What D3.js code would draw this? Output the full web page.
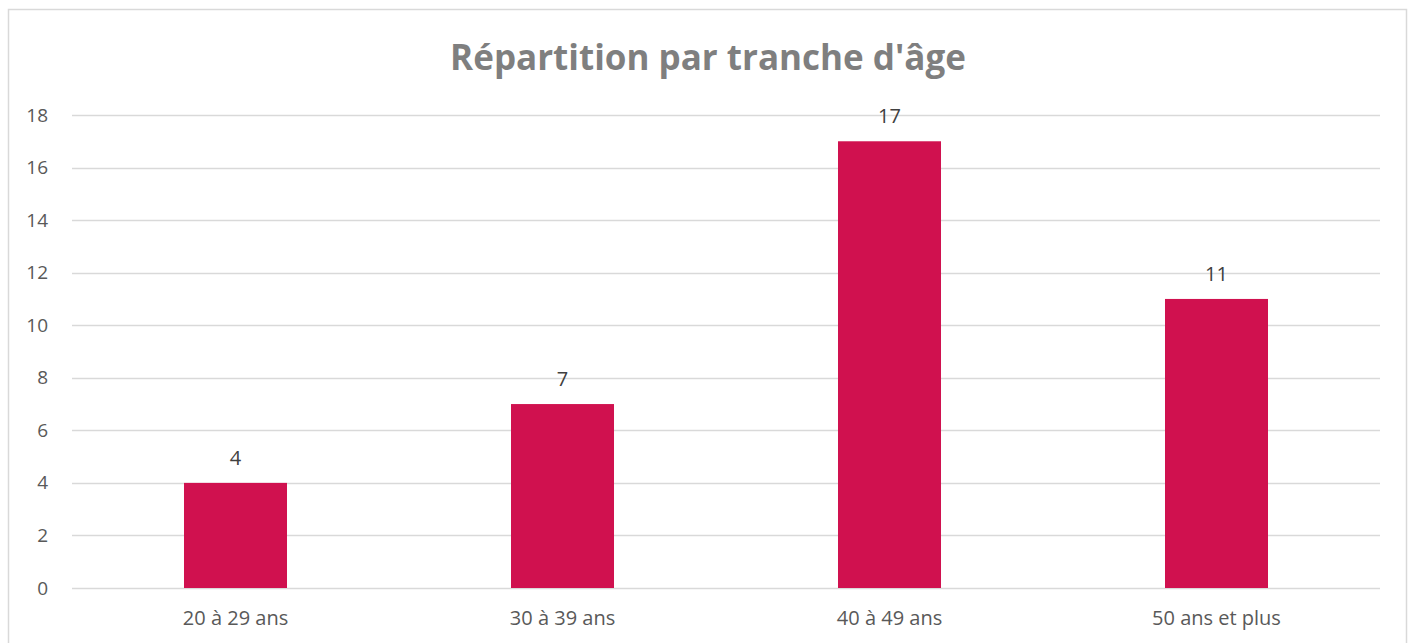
<!DOCTYPE html>
<html>
<head>
<meta charset="utf-8">
<script src="https://cdn.jsdelivr.net/npm/d3@7"></script>
<style>
  body { margin: 0; background: #fff; }
  svg { display: block; font-family: "Open Sans", sans-serif; }
</style>
</head>
<body>
<div id="chart"></div>
<script>
const categories = ['20 à 29 ans', '30 à 39 ans', '40 à 49 ans', '50 ans et plus'];
const values = [4, 7, 17, 11];
const yTicks = [0, 2, 4, 6, 8, 10, 12, 14, 16, 18];
const title = "Répartition par tranche d'âge";

const width = 1408, height = 643;
const margin = { top: 115, right: 28, bottom: 55, left: 72 };
const innerW = width - margin.left - margin.right;
const innerH = height - margin.top - margin.bottom;

const svg = d3.select('#chart').append('svg')
    .attr('width', width)
    .attr('height', height);

// outer chart border
svg.append('rect')
    .attr('x', 8.5).attr('y', 9.5)
    .attr('width', 1398).attr('height', 650)
    .attr('fill', 'none')
    .attr('stroke', '#d9d9d9')
    .attr('stroke-width', 1.5);

svg.append('text')
    .attr('x', 708).attr('y', 70)
    .attr('text-anchor', 'middle')
    .attr('font-size', '35px')
    .attr('font-weight', 'bold')
    .attr('fill', '#7f7f7f')
    .text(title);

const chart = svg.append('g')
    .attr('transform', `translate(${margin.left},${margin.top})`);

const x = d3.scaleBand()
    .domain(categories)
    .range([0, innerW])
    .paddingInner(0.685)
    .paddingOuter(0.3425);

const y = d3.scaleLinear()
    .domain([0, 18])
    .range([innerH, 0]);

// gridlines
chart.append('g')
    .selectAll('line')
    .data(yTicks)
    .join('line')
    .attr('x1', 0).attr('x2', innerW)
    .attr('y1', d => Math.round(y(d)) + 0.5)
    .attr('y2', d => Math.round(y(d)) + 0.5)
    .attr('stroke', '#d9d9d9')
    .attr('stroke-width', 1.5);

// y axis labels
const yAxis = d3.axisLeft(y).tickValues(yTicks).tickSize(0).tickPadding(24);
chart.append('g')
    .call(yAxis)
    .call(g => g.select('.domain').remove())
    .selectAll('text')
    .attr('font-size', '19px')
    .attr('font-family', '"Open Sans", sans-serif')
    .attr('fill', '#595959');

// x axis labels
const xAxis = d3.axisBottom(x).tickSize(0).tickPadding(23);
chart.append('g')
    .attr('transform', `translate(0,${innerH})`)
    .call(xAxis)
    .call(g => g.select('.domain').remove())
    .selectAll('text')
    .attr('font-size', '20px')
    .attr('font-family', '"Open Sans", sans-serif')
    .attr('fill', '#595959');

// bars
chart.selectAll('.bar')
    .data(values)
    .join('rect')
    .attr('class', 'bar')
    .attr('x', (d, i) => x(categories[i]))
    .attr('y', d => y(d))
    .attr('width', x.bandwidth())
    .attr('height', d => innerH - y(d))
    .attr('fill', '#d0114f');

// data labels
chart.selectAll('.label')
    .data(values)
    .join('text')
    .attr('class', 'label')
    .attr('x', (d, i) => x(categories[i]) + x.bandwidth() / 2)
    .attr('y', d => y(d) - 18)
    .attr('text-anchor', 'middle')
    .attr('font-size', '20px')
    .attr('fill', '#404040')
    .text(d => d);
</script>
</body>
</html>
